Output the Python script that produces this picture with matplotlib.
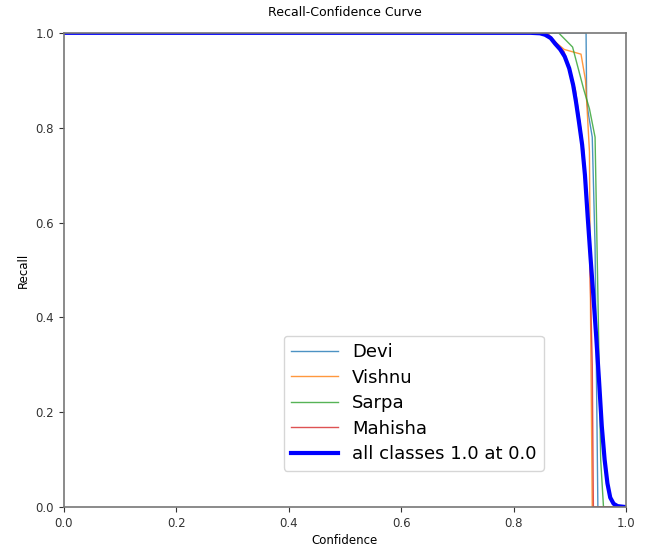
import numpy as np
import matplotlib.pyplot as plt

# Points (confidence, recall)
devi_x = [0.0, 0.929, 0.930, 0.933, 0.940, 0.945, 0.950, 1.0]
devi_y = [1.0, 1.0, 0.86, 0.83, 0.78, 0.55, 0.0, 0.0]

vishnu_x = [0.0, 0.850, 0.870, 0.890, 0.920, 0.928, 0.935, 0.937, 0.940, 1.0]
vishnu_y = [1.0, 1.0, 0.985, 0.965, 0.955, 0.90, 0.75, 0.40, 0.0, 0.0]

sarpa_x = [0.0, 0.880, 0.905, 0.925, 0.935, 0.945, 0.950, 0.955, 0.960, 1.0]
sarpa_y = [1.0, 1.0, 0.97, 0.88, 0.84, 0.78, 0.45, 0.10, 0.0, 0.0]

mahisha_x = [0.0, 0.860, 0.890, 0.910, 0.925, 0.935, 0.940, 0.942, 1.0]
mahisha_y = [1.0, 1.0, 0.96, 0.88, 0.75, 0.55, 0.30, 0.0, 0.0]

all_x = [0.0, 0.830, 0.847, 0.856, 0.866, 0.874, 0.883, 0.891, 0.899, 0.906,
         0.911, 0.916, 0.922, 0.927, 0.932, 0.937, 0.942, 0.947, 0.952, 0.957,
         0.962, 0.967, 0.972, 0.978, 0.985, 1.0]
all_y = [1.0, 1.0, 0.999, 0.996, 0.989, 0.977, 0.965, 0.950, 0.925, 0.890,
         0.855, 0.815, 0.764, 0.700, 0.610, 0.525, 0.445, 0.360, 0.268, 0.170,
         0.100, 0.050, 0.020, 0.007, 0.002, 0.0]

fig = plt.figure(figsize=(6.46, 5.47), dpi=100)
ax = fig.add_axes([0.099, 0.073, 0.870, 0.867])

ax.plot(devi_x, devi_y, linewidth=1, color='#1f77b4', alpha=0.8, label='Devi')
ax.plot(vishnu_x, vishnu_y, linewidth=1, color='#ff7f0e', alpha=0.8, label='Vishnu')
ax.plot(sarpa_x, sarpa_y, linewidth=1, color='#2ca02c', alpha=0.8, label='Sarpa')
ax.plot(mahisha_x, mahisha_y, linewidth=1, color='#d62728', alpha=0.8, label='Mahisha')
ax.plot(all_x, all_y, linewidth=3, color='blue', solid_joinstyle='round',
        label='all classes 1.0 at 0.0')

ax.set_xlim(0, 1)
ax.set_ylim(0, 1)
ax.set_xlabel('Confidence', fontsize=8.5, labelpad=3)
ax.set_ylabel('Recall', fontsize=8.5)
ax.set_title('Recall-Confidence Curve', fontsize=9, pad=12)
ax.tick_params(labelsize=8.5, colors='#333333')
for s in ax.spines.values():
    s.set_color('#777777')
    s.set_linewidth(1.2)

ax.legend(loc='lower left', bbox_to_anchor=(0.375, 0.058), fontsize=13,
          handlelength=2.6, labelspacing=0.42)

plt.savefig('out.png', dpi=100)
